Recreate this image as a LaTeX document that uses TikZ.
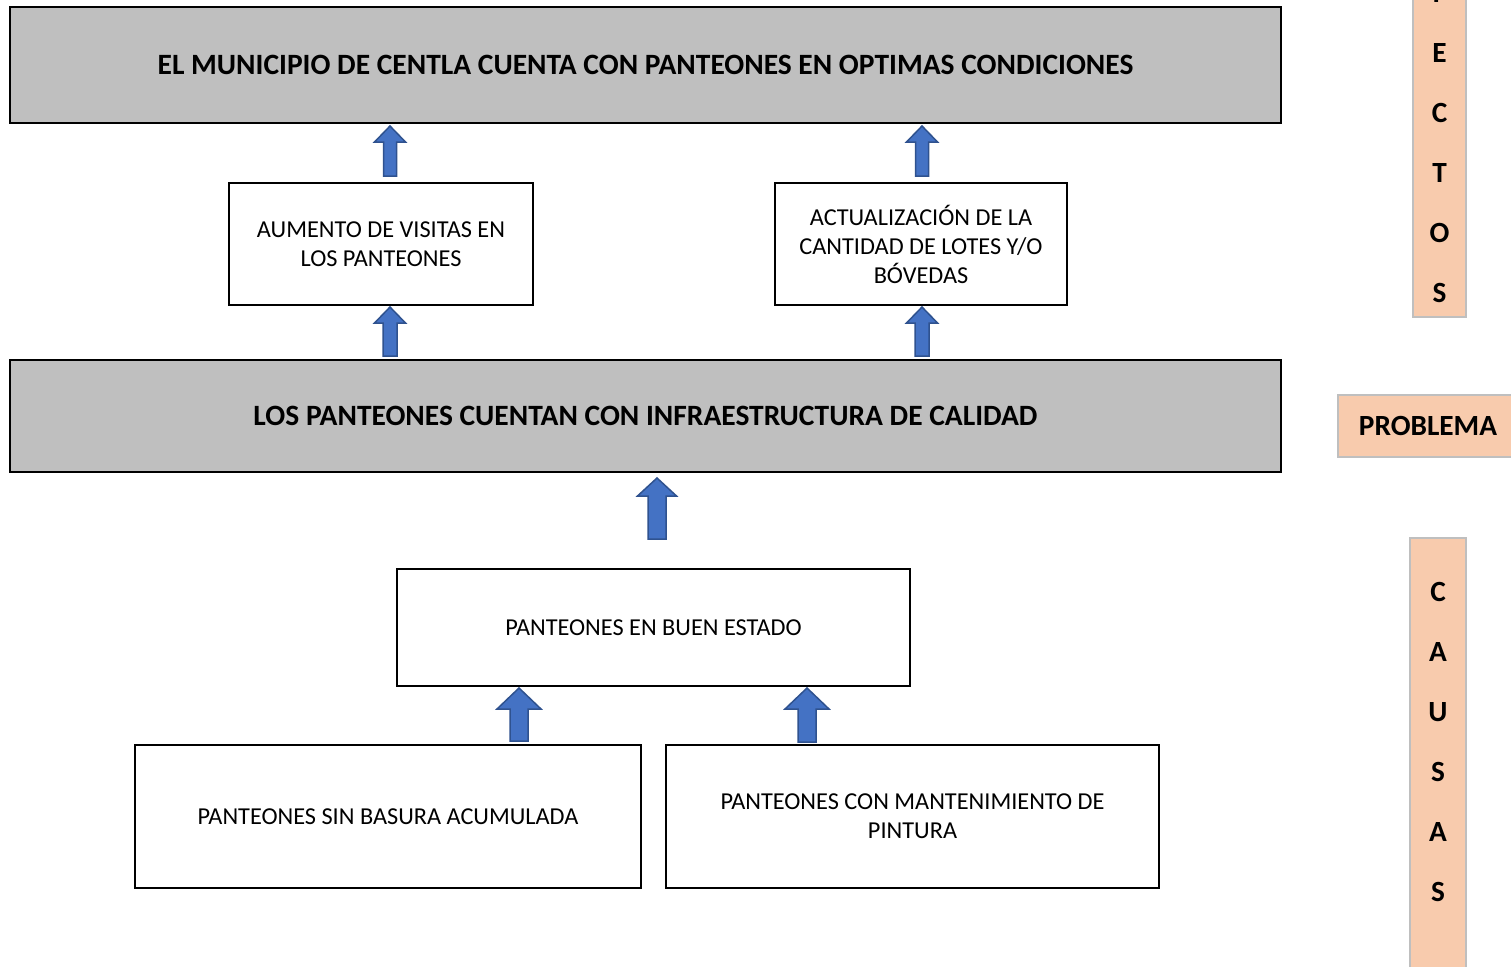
\documentclass[tikz,border=0pt]{standalone}
\usepackage{fontspec}
\setmainfont{Carlito}
\usetikzlibrary{calc}
\definecolor{boxgray}{HTML}{BFBFBF}
\definecolor{peach}{HTML}{F8CBAD}
\definecolor{peachline}{HTML}{BFBFBF}
\definecolor{arrfill}{HTML}{4472C4}
\definecolor{arrline}{HTML}{2F528F}
% #1 bottom coord, #2 top coord, #3 bottom gap, #4 top gap, #5 head half, #6 shaft half, #7 head length
\newcommand\blockarrow[7]{%
  \path[blockarr] let \p1=#1, \p2=#2 in
    (\x1-#6,\y1+#3) -- (\x1-#6,\y2-#4-#7) -- (\x1-#5,\y2-#4-#7) -- (\x1,\y2-#4)
    -- (\x1+#5,\y2-#4-#7) -- (\x1+#6,\y2-#4-#7) -- (\x1+#6,\y1+#3) -- cycle;}
\begin{document}
\begin{tikzpicture}[x=1pt,y=-1pt,
  mainbox/.style={draw=black,line width=2pt,fill=boxgray,inner sep=0pt,align=center,
    font=\fontsize{29.5}{34}\selectfont\bfseries},
  plainbox/.style={draw=black,line width=2pt,fill=white,inner sep=0pt,align=center,
    font=\fontsize{24.3}{29}\selectfont},
  sidebox/.style={draw=peachline,line width=2pt,fill=peach,inner sep=0pt},
  sidetext/.style={align=center,inner sep=0pt,font=\fontsize{29.3}{60}\selectfont\bfseries},
  blockarr/.style={fill=arrfill,draw=arrline,line width=1.5pt,line join=miter}]
\useasboundingbox (0,0) rectangle (1511,966);
\clip (0,0) rectangle (1511,966);

\node[mainbox,minimum width=1271pt,minimum height=116pt] (top) at (645.5,65)
  {EL MUNICIPIO DE CENTLA CUENTA CON PANTEONES EN OPTIMAS CONDICIONES};
\node[plainbox,minimum width=304pt,minimum height=122pt] (aum) at (381,244)
  {AUMENTO DE VISITAS EN\\LOS PANTEONES};
\node[plainbox,minimum width=292pt,minimum height=122pt] (act) at (921,244)
  {ACTUALIZACIÓN DE LA\\CANTIDAD DE LOTES Y/O\\BÓVEDAS};
\node[mainbox,minimum width=1271pt,minimum height=112pt] (mid) at (645.5,416)
  {LOS PANTEONES CUENTAN CON INFRAESTRUCTURA DE CALIDAD};
\node[plainbox,minimum width=513pt,minimum height=117pt] (buen) at (653.5,627.5)
  {PANTEONES EN BUEN ESTADO};
\node[plainbox,minimum width=506pt,minimum height=143pt] (sin) at (388,816.5)
  {PANTEONES SIN BASURA ACUMULADA};
\node[plainbox,minimum width=493pt,minimum height=143pt] (con) at (912.5,816.5)
  {PANTEONES CON MANTENIMIENTO DE\\PINTURA};

% side labels
\node[sidebox,minimum width=53pt,minimum height=408pt] (efbox) at (1439.5,113) {};
\node[sidetext] (eftext) at (efbox.center) {E\\F\\E\\C\\T\\O\\S};
\node[sidebox,minimum width=180pt,minimum height=62pt] (probbox) at (1428,426) {};
\node[sidetext] (probtext) at (probbox.center) {PROBLEMA};
\node[sidebox,minimum width=56pt,minimum height=470pt] (cabox) at (1438,773) {};
\node[sidetext] (catext) at (1438,742) {C\\A\\U\\S\\A\\S};

% arrows
\coordinate (a1b) at ([xshift=9pt]aum.north);
\coordinate (a1t) at (a1b |- top.south);
\blockarrow{(a1b)}{(a1t)}{6pt}{2pt}{15.5pt}{6.5pt}{16pt}
\coordinate (a2b) at ([xshift=1pt]act.north);
\coordinate (a2t) at (a2b |- top.south);
\blockarrow{(a2b)}{(a2t)}{6pt}{2pt}{15.5pt}{6.5pt}{16pt}
\coordinate (a3t) at ([xshift=9pt]aum.south);
\coordinate (a3b) at (a3t |- mid.north);
\blockarrow{(a3b)}{(a3t)}{3pt}{1pt}{15.5pt}{7pt}{16pt}
\coordinate (a4t) at ([xshift=1pt]act.south);
\coordinate (a4b) at (a4t |- mid.north);
\blockarrow{(a4b)}{(a4t)}{3pt}{1pt}{15.5pt}{7pt}{16pt}
\coordinate (a5t) at ([xshift=11.5pt]mid.south);
\coordinate (a5b) at (a5t |- buen.north);
\blockarrow{(a5b)}{(a5t)}{29pt}{5pt}{19.5pt}{9pt}{18pt}
\coordinate (a6t) at (519,686);
\coordinate (a6b) at (a6t |- sin.north);
\blockarrow{(a6b)}{(buen.south -| a6b)}{3pt}{1pt}{22pt}{9pt}{21pt}
\coordinate (a7b) at (807,745);
\blockarrow{(a7b)}{(buen.south -| a7b)}{3pt}{1pt}{22pt}{9pt}{21pt}
\end{tikzpicture}
\end{document}
